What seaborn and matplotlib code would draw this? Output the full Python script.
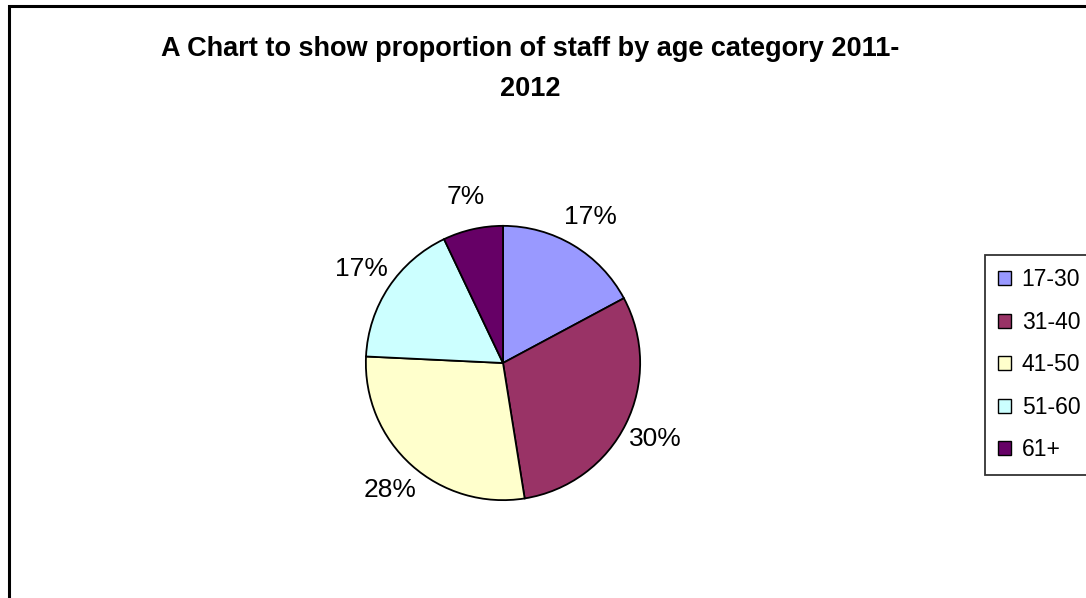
import matplotlib
matplotlib.use("Agg")
import matplotlib.pyplot as plt
import seaborn as sns
from matplotlib.patches import Rectangle

# data
age_groups = ["17-30", "31-40", "41-50", "51-60", "61+"]
shares = [17, 30, 28, 17, 7]
slice_colors = ["#9999FF", "#993366", "#FFFFCC", "#CCFFFF", "#660066"]
title_text = "A Chart to show proportion of staff by age category 2011-\n2012"

sns.set_theme(style="white")
plt.rcParams["font.family"] = ["Liberation Sans", "DejaVu Sans"]

fig = plt.figure(figsize=(10.86, 5.98), dpi=100)
fig.patch.set_facecolor("white")

# pie centred at about (503, 363) px, radius ~137 px
ax = fig.add_axes([311 / 1086, 43 / 598, 384 / 1086, 384 / 598])
wedges, texts, autotexts = ax.pie(
    shares,
    colors=slice_colors,
    startangle=90,
    counterclock=False,
    autopct="%1.0f%%",
    pctdistance=1.24,
    radius=1.0,
    wedgeprops=dict(edgecolor="black", linewidth=1.3),
    textprops=dict(fontsize=19, color="black"),
)
ax.set_xlim(-1.4, 1.4)
ax.set_ylim(-1.4, 1.4)
ax.set_aspect("equal")
ax.axis("off")

# title
fig.text(530 / 1086, 1 - 69 / 598, title_text, ha="center", va="center",
         fontsize=19.5, fontweight="bold", linespacing=1.75, color="black")

# legend
leg = fig.legend(wedges, age_groups, loc="upper left",
                 bbox_to_anchor=(985 / 1086, 1 - 255 / 598),
                 fontsize=16.5, frameon=True, fancybox=False,
                 handlelength=0.57, handleheight=0.57, handletextpad=0.45,
                 labelspacing=0.85, borderpad=0.58, borderaxespad=0)
leg.get_frame().set_edgecolor("black")
leg.get_frame().set_linewidth(1.3)
for t in leg.get_texts():
    t.set_color("black")
for h in leg.legend_handles:
    h.set_edgecolor("black")
    h.set_linewidth(1.0)

# chart area border (cut by the image on right and bottom)
fig.patches.append(Rectangle((9 / 1086, -0.1), 1.2, 1.1 - 6 / 598,
                             transform=fig.transFigure, fill=False,
                             edgecolor="black", linewidth=2.2))

fig.savefig("out.png", dpi=100)
